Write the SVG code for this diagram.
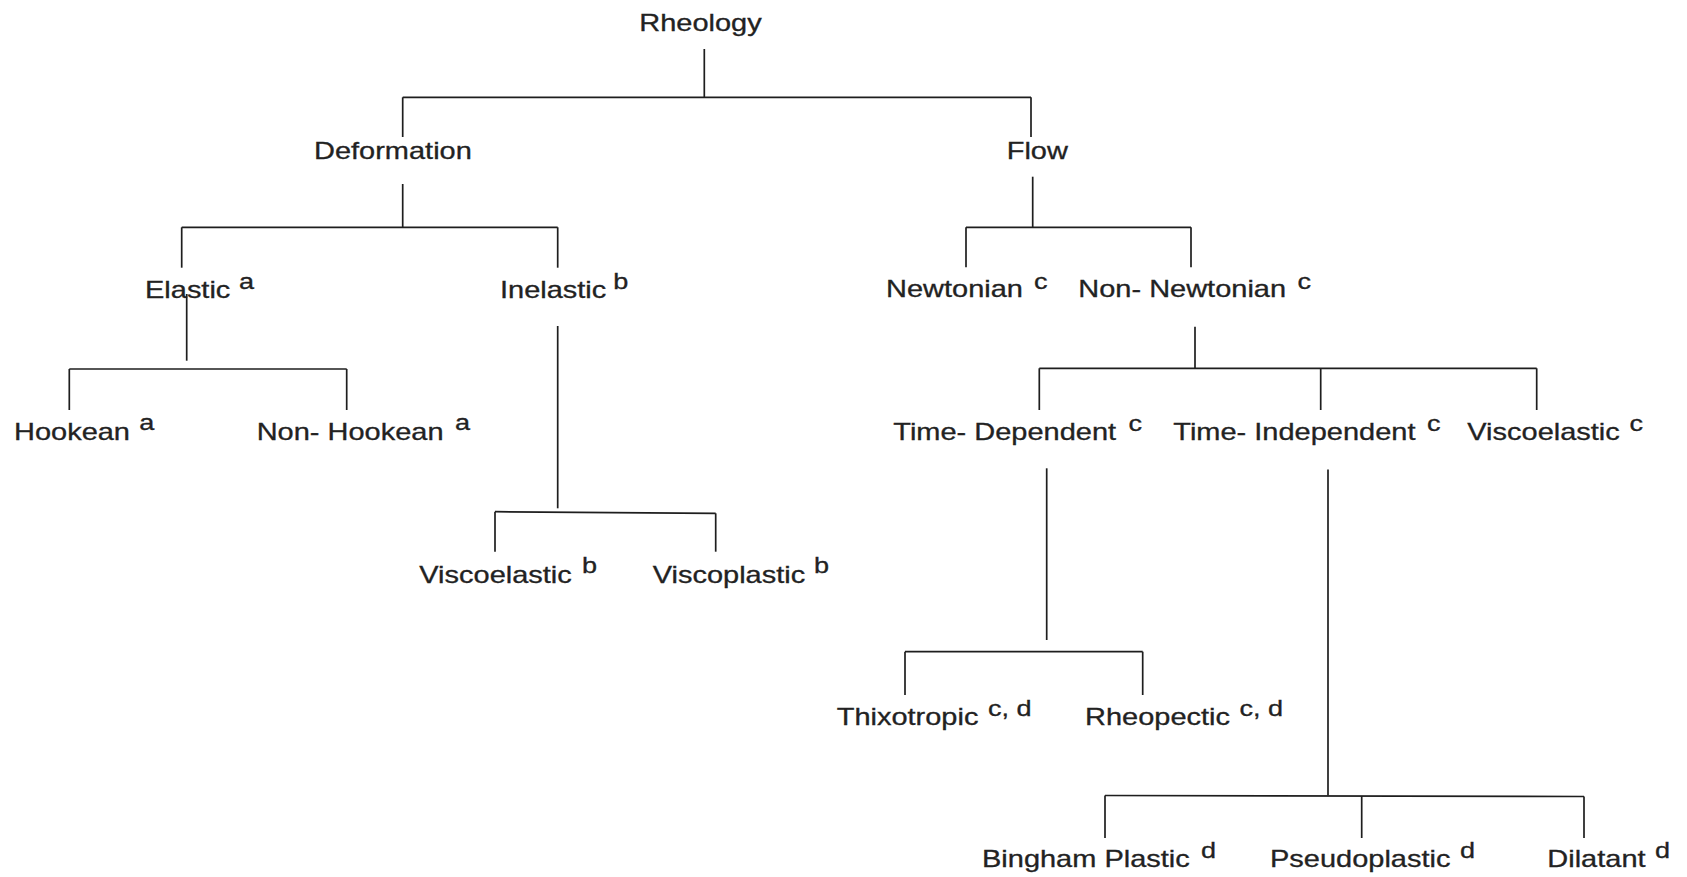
<svg xmlns="http://www.w3.org/2000/svg" width="1687" height="877" viewBox="0 0 1687 877">
<style>
  .t { font-family: "Liberation Sans", Arial, sans-serif; font-size: 23px; fill: #222; stroke: #222; stroke-width: 0.3; }
  .s { font-family: "Liberation Sans", Arial, sans-serif; font-size: 21.5px; fill: #222; stroke: #222; stroke-width: 0.3; }
  .c line { stroke: #1e1e1e; stroke-width: 1.7; stroke-linecap: butt; }
</style>
<rect width="1687" height="877" fill="#ffffff"/>
<g id="connectors" class="c">
  <line x1="704.3" y1="49" x2="704.3" y2="97.3"/>
  <line x1="402.7" y1="97.3" x2="1031" y2="97.3"/>
  <line x1="402.7" y1="97.3" x2="402.7" y2="137"/>
  <line x1="1031" y1="97.3" x2="1031" y2="137"/>
  <line x1="402.7" y1="184" x2="402.7" y2="227.3"/>
  <line x1="181.7" y1="227.3" x2="557.7" y2="227.3"/>
  <line x1="181.7" y1="227.3" x2="181.7" y2="267.7"/>
  <line x1="557.7" y1="227.3" x2="557.7" y2="267.7"/>
  <line x1="186.7" y1="294" x2="186.7" y2="360.7"/>
  <line x1="69.3" y1="369" x2="346.7" y2="369"/>
  <line x1="69.3" y1="369" x2="69.3" y2="410"/>
  <line x1="346.7" y1="369" x2="346.7" y2="410"/>
  <line x1="557.7" y1="326" x2="557.7" y2="508.3"/>
  <line x1="495" y1="511.7" x2="715.7" y2="513.3"/>
  <line x1="495" y1="511.7" x2="495" y2="551.7"/>
  <line x1="715.7" y1="513.3" x2="715.7" y2="551.7"/>
  <line x1="1032.7" y1="176.7" x2="1032.7" y2="227.3"/>
  <line x1="966" y1="227.3" x2="1191" y2="227.3"/>
  <line x1="966" y1="227.3" x2="966" y2="267.3"/>
  <line x1="1191" y1="227.3" x2="1191" y2="267.3"/>
  <line x1="1195" y1="326.7" x2="1195" y2="368.3"/>
  <line x1="1039.3" y1="368.3" x2="1536.7" y2="368.3"/>
  <line x1="1039.3" y1="368.3" x2="1039.3" y2="410"/>
  <line x1="1320.7" y1="368.3" x2="1320.7" y2="410"/>
  <line x1="1536.7" y1="368.3" x2="1536.7" y2="410"/>
  <line x1="1046.7" y1="468.3" x2="1046.7" y2="640"/>
  <line x1="905" y1="651.7" x2="1142.7" y2="651.7"/>
  <line x1="905" y1="651.7" x2="905" y2="695"/>
  <line x1="1142.7" y1="651.7" x2="1142.7" y2="695"/>
  <line x1="1328" y1="469.5" x2="1328" y2="795.5"/>
  <line x1="1105" y1="795.5" x2="1584" y2="796.5"/>
  <line x1="1105" y1="795.5" x2="1105" y2="838"/>
  <line x1="1361.7" y1="796" x2="1361.7" y2="838"/>
  <line x1="1584" y1="796.5" x2="1584" y2="838"/>
</g>
<g id="rheology"><text class="t" transform="translate(639.3,31) scale(1.26,1)">Rheology</text></g>
<g id="deformation"><text class="t" transform="translate(314,159) scale(1.26,1)">Deformation</text></g>
<g id="flow"><text class="t" transform="translate(1006.7,158.5) scale(1.26,1)">Flow</text></g>
<g id="elastic"><text class="t" transform="translate(145,298.3) scale(1.26,1)">Elastic</text><text class="s" transform="translate(239,288.5) scale(1.26,1)">a</text></g>
<g id="inelastic"><text class="t" transform="translate(500,298.3) scale(1.26,1)">Inelastic</text><text class="s" transform="translate(613.3,288.5) scale(1.26,1)">b</text></g>
<g id="newtonian"><text class="t" transform="translate(886,296.7) scale(1.26,1)">Newtonian</text><text class="s" transform="translate(1034,288.5) scale(1.26,1)">c</text></g>
<g id="non-newtonian"><text class="t" transform="translate(1078.3,296.7) scale(1.26,1)">Non- Newtonian</text><text class="s" transform="translate(1297.5,288.5) scale(1.26,1)">c</text></g>
<g id="hookean"><text class="t" transform="translate(14,440) scale(1.26,1)">Hookean</text><text class="s" transform="translate(139.3,430) scale(1.26,1)">a</text></g>
<g id="non-hookean"><text class="t" transform="translate(256.7,440) scale(1.26,1)">Non- Hookean</text><text class="s" transform="translate(455,430) scale(1.26,1)">a</text></g>
<g id="time-dependent"><text class="t" transform="translate(893.3,440) scale(1.26,1)">Time- Dependent</text><text class="s" transform="translate(1128.5,431) scale(1.26,1)">c</text></g>
<g id="time-independent"><text class="t" transform="translate(1173.3,440) scale(1.26,1)">Time- Independent</text><text class="s" transform="translate(1427,431) scale(1.26,1)">c</text></g>
<g id="viscoelastic-c"><text class="t" transform="translate(1467.3,440) scale(1.26,1)">Viscoelastic</text><text class="s" transform="translate(1629.5,431) scale(1.26,1)">c</text></g>
<g id="viscoelastic-b"><text class="t" transform="translate(419.3,582.7) scale(1.26,1)">Viscoelastic</text><text class="s" transform="translate(582,573.3) scale(1.26,1)">b</text></g>
<g id="viscoplastic"><text class="t" transform="translate(652.7,582.7) scale(1.26,1)">Viscoplastic</text><text class="s" transform="translate(814,573.3) scale(1.26,1)">b</text></g>
<g id="thixotropic"><text class="t" transform="translate(836.7,725) scale(1.26,1)">Thixotropic</text><text class="s" transform="translate(988,715.5) scale(1.26,1)">c, d</text></g>
<g id="rheopectic"><text class="t" transform="translate(1085,725) scale(1.26,1)">Rheopectic</text><text class="s" transform="translate(1239.5,715.5) scale(1.26,1)">c, d</text></g>
<g id="bingham-plastic"><text class="t" transform="translate(982,867) scale(1.26,1)">Bingham Plastic</text><text class="s" transform="translate(1201,857.5) scale(1.26,1)">d</text></g>
<g id="pseudoplastic"><text class="t" transform="translate(1270,867) scale(1.26,1)">Pseudoplastic</text><text class="s" transform="translate(1460,857.5) scale(1.26,1)">d</text></g>
<g id="dilatant"><text class="t" transform="translate(1547.3,867) scale(1.26,1)">Dilatant</text><text class="s" transform="translate(1655,857.5) scale(1.26,1)">d</text></g>
</svg>
